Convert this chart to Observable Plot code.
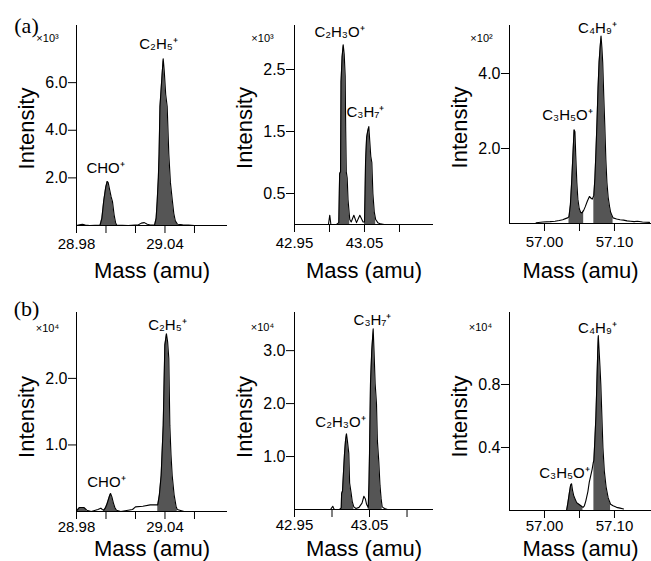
<!DOCTYPE html>
<html><head><meta charset="utf-8">
<script src="https://cdn.jsdelivr.net/npm/d3@7"></script>
<script src="https://cdn.jsdelivr.net/npm/@observablehq/plot@0.6"></script>
<style>
body{margin:0;background:#fff;}
#fig{position:relative;width:651px;height:561px;background:#fff;overflow:hidden;}
#fig svg{position:absolute;}
</style></head><body><div id="fig"></div>
<script>
// ---------- Panel (a) left: m/z 29 (x10^3) ----------
const massA1 = [28.980,28.982,28.984,28.986,28.989,28.9960,28.9972,28.9985,28.9998,29.0008,29.0015,29.0025,29.0035,29.0044,29.0055,29.0065,29.0072,29.015,29.022,29.024,29.026,29.028,29.030,29.0330,29.0340,29.0347,29.0355,29.0360,29.0366,29.0380,29.0388,29.0395,29.0405,29.0415,29.0426,29.0437,29.0449,29.0460,29.0470,29.0485,29.052,29.056,29.060];
const intA1  = [0,0.03,0.05,0.02,0,0.02,0.3,1.05,1.6,1.85,1.8,1.5,1.2,1.0,0.45,0.12,0.02,0,0.03,0.10,0.12,0.05,0.02,0.03,0.3,1.0,2.0,3.0,5.0,6.3,7.0,6.5,5.5,5.0,3.0,1.8,1.1,0.5,0.2,0.05,0.03,0.02,0];
const fillA1 = [[28.9960,29.0072],[29.0330,29.0485]];
const ionsA1 = ["C₂H₅⁺","CHO⁺"];
const ionMassA1 = [29.0356,28.9997];
const ionIntA1 = [7.6,2.4];

// ---------- Panel (a) middle: m/z 43 (x10^3) ----------
const massA2 = [42.995,42.9985,43.0004,43.0020,43.0100,43.0133,43.0140,43.0145,43.0158,43.0165,43.0180,43.0196,43.0210,43.0224,43.0232,43.0240,43.0253,43.0265,43.0280,43.0290,43.0310,43.0348,43.0386,43.0433,43.0480,43.0500,43.0508,43.0515,43.0530,43.0545,43.0562,43.0575,43.0590,43.0605,43.0620,43.0640,43.0660,43.0690,43.0730,43.0780];
const intA2  = [0,0,0.15,0,0,0.03,0.5,0.82,0.85,2.3,2.7,2.9,2.75,2.4,1.5,0.85,0.75,0.4,0.2,0.08,0.04,0.15,0.03,0.15,0.04,0.04,0.5,1.0,1.4,1.5,1.58,1.35,1.1,1.0,0.5,0.2,0.08,0.03,0.01,0];
const fillA2 = [[43.0133,43.0290],[43.0500,43.0660]];
const ionsA2 = ["C₂H₃O⁺","C₃H₇⁺"];
const ionMassA2 = [43.0143,43.0514];
const ionIntA2 = [3.11,1.81];

// ---------- Panel (a) right: m/z 57 (x10^2) ----------
const massA3 = [56.988,56.998,57.008,57.015,57.021,57.026,57.030,57.033,57.0350,57.0370,57.0388,57.0408,57.0423,57.0435,57.0447,57.0462,57.0477,57.0496,57.0516,57.0535,57.0560,57.0583,57.0613,57.0642,57.0662,57.0682,57.0705,57.0720,57.0735,57.0750,57.0765,57.0780,57.0795,57.0808,57.0820,57.0832,57.0847,57.0862,57.0877,57.0892,57.0910,57.0930,57.0945,57.0980,57.103,57.108,57.113,57.118,57.123,57.128,57.133,57.140,57.150];
const intA3  = [0.02,0.04,0.05,0.06,0.08,0.1,0.13,0.15,0.18,0.5,1.1,1.9,2.5,2.45,1.8,1.1,0.65,0.4,0.3,0.28,0.35,0.45,0.6,0.72,0.68,0.65,0.75,1.2,1.9,2.7,3.6,4.3,4.7,5.0,4.7,4.3,3.4,2.6,1.7,1.1,0.7,0.45,0.3,0.15,0.12,0.1,0.09,0.07,0.06,0.05,0.06,0.04,0.03];
const fillA3 = [[57.0350,57.0560],[57.0705,57.0980]];
const ionsA3 = ["C₄H₉⁺","C₃H₅O⁺"];
const ionMassA3 = [57.0757,57.0329];
const ionIntA3 = [5.2,2.88];

// ---------- Panel (b) left: m/z 29 (x10^4) ----------
const massB1 = [28.9805,28.9820,28.9850,28.9870,28.9900,28.9945,28.9965,28.9975,28.9985,28.9995,29.0005,29.0015,29.0025,29.0031,29.0040,29.0050,29.0060,29.0071,29.0100,29.0180,29.0200,29.0250,29.0300,29.0340,29.0351,29.0362,29.0374,29.0388,29.0399,29.0410,29.0418,29.0426,29.0433,29.0441,29.0449,29.0462,29.0475,29.0483,29.0500,29.0530];
const intB1  = [0.02,0.06,0.06,0.02,0,0.03,0.05,0.03,0.02,0.05,0.1,0.17,0.24,0.27,0.22,0.13,0.06,0.02,0,0.03,0.07,0.08,0.1,0.1,0.1,0.25,0.54,1.29,2.5,2.67,2.55,2.3,1.29,0.85,0.54,0.25,0.08,0.03,0.02,0];
const fillB1 = [[28.9805,28.9870],[28.9985,29.0071],[29.0351,29.0483]];
const ionsB1 = ["C₂H₅⁺","CHO⁺"];
const ionMassB1 = [29.0417,29.0003];
const ionIntB1 = [2.8,0.44];

// ---------- Panel (b) middle: m/z 43 (x10^4) ----------
const massB2 = [42.9980,43.0010,43.0030,43.0100,43.0123,43.0128,43.0140,43.0155,43.0167,43.0180,43.0193,43.0205,43.0224,43.0235,43.0256,43.0270,43.0291,43.0320,43.0360,43.0400,43.0425,43.0445,43.0460,43.0483,43.0493,43.0500,43.0513,43.0530,43.0549,43.0560,43.0575,43.0593,43.0605,43.0624,43.0640,43.0655,43.0669,43.0700,43.0740];
const intB2  = [0,0.06,0,0,0.03,0.3,0.35,0.75,1.06,1.3,1.43,1.3,1.06,0.5,0.3,0.15,0.05,0.02,0.04,0.12,0.25,0.2,0.1,0.04,0.5,1.06,2.38,3.0,3.41,3.0,2.38,2.0,1.3,0.9,0.45,0.2,0.05,0.02,0];
const fillB2 = [[43.0123,43.0291],[43.0483,43.0669]];
const ionsB2 = ["C₃H₇⁺","C₂H₃O⁺"];
const ionMassB2 = [43.054,43.0113];
const ionIntB2 = [3.57,1.64];

// ---------- Panel (b) right: m/z 57 (x10^4) ----------
const massB3 = [57.0316,57.0335,57.0355,57.0373,57.0387,57.0400,57.0420,57.0440,57.0460,57.0490,57.0520,57.0550,57.0570,57.0590,57.0620,57.0640,57.0660,57.0680,57.0695,57.0706,57.0720,57.0735,57.0748,57.0760,57.0769,57.0780,57.0792,57.0805,57.0820,57.0835,57.0855,57.0880,57.0910,57.0944,57.098,57.103,57.108,57.113];
const intB3  = [0,0.05,0.11,0.16,0.17,0.13,0.09,0.07,0.05,0.04,0.03,0.02,0.03,0.06,0.12,0.18,0.22,0.26,0.3,0.32,0.45,0.6,0.8,1.0,1.11,1.02,0.92,0.8,0.6,0.4,0.25,0.15,0.08,0.04,0.03,0.02,0.015,0.01];
const fillB3 = [[57.0316,57.0550],[57.0706,57.0944]];
const ionsB3 = ["C₄H₉⁺","C₃H₅O⁺"];
const ionMassB3 = [57.0757,57.0286];
const ionIntB3 = [1.16,0.24];

// ---------- axis ticks ----------
const xTicks29 = [28.98,29.00,29.02,29.04,29.06], xLab29 = [28.98,29.04];
const xTicks43 = [42.95,43.00,43.05,43.10], xLab43 = [42.95,43.05];
const xTicks57 = [57.00,57.05,57.10], xLab57 = [57.00,57.10];
const yTicksA1 = [2,4,6], yTicksA2 = [0.5,1.5,2.5], yTicksA3 = [2,4];
const yTicksB1 = [1,2], yTicksB2 = [1,2,3], yTicksB3 = [0.4,0.8];
const scaleLabels = ["×10³","×10³","×10²","×10⁴","×10⁴","×10⁴"];
const panelTags = ["(a)","(b)"];

const panels = [
  {left:0,top:0,w:230,h:280,ml:76,mr:3,mt:25,mb:55,xd:[28.98,29.0824],yd:[0,8.4],mass:massA1,int:intA1,fill:fillA1,ions:ionsA1,im:ionMassA1,ii:ionIntA1,xt:xTicks29,xl:xLab29,yt:yTicksA1,sc:scaleLabels[0],sdx:-29,sdy:13,xpad:5,tdy:45,idy:3,tag:panelTags[0],tagDy:0},
  {left:215,top:0,w:220,h:280,ml:79,mr:2,mt:25,mb:56,xd:[42.95,43.1486],yd:[0,3.21],mass:massA2,int:intA2,fill:fillA2,ions:ionsA2,im:ionMassA2,ii:ionIntA2,xt:xTicks43,xl:xLab43,yt:yTicksA2,sc:scaleLabels[1],sdx:-32,sdy:13,xpad:5,tdy:46,idy:3},
  {left:430,top:0,w:221,h:280,ml:79,mr:0,mt:25,mb:57,xd:[56.95,57.1529],yd:[0,5.28],mass:massA3,int:intA3,fill:fillA3,ions:ionsA3,im:ionMassA3,ii:ionIntA3,xt:xTicks57,xl:xLab57,yt:yTicksA3,sc:scaleLabels[2],sdx:-28,sdy:13,xpad:5,tdy:47,idy:3},
  {left:0,top:280,w:230,h:281,ml:76,mr:3,mt:32,mb:50,xd:[28.98,29.0824],yd:[0,2.99],mass:massB1,int:intB1,fill:fillB1,ions:ionsB1,im:ionMassB1,ii:ionIntB1,xt:xTicks29,xl:xLab29,yt:yTicksB1,sc:scaleLabels[3],sdx:-29,sdy:16,xpad:2,tdy:37,idy:5,tag:panelTags[1],tagDy:-4},
  {left:215,top:280,w:220,h:281,ml:79,mr:2,mt:32,mb:52,xd:[42.95,43.1353],yd:[0,3.72],mass:massB2,int:intB2,fill:fillB2,ions:ionsB2,im:ionMassB2,ii:ionIntB2,xt:xTicks43,xl:xLab43,yt:yTicksB2,sc:scaleLabels[4],sdx:-32,sdy:15,xpad:2,tdy:39,idy:6},
  {left:430,top:280,w:221,h:281,ml:79,mr:0,mt:32,mb:51,xd:[56.95,57.1529],yd:[0,1.257],mass:massB3,int:intB3,fill:fillB3,ions:ionsB3,im:ionMassB3,ii:ionIntB3,xt:xTicks57,xl:xLab57,yt:yTicksB3,sc:scaleLabels[5],sdx:-29,sdy:15,xpad:2,tdy:38,idy:5}
];

const fig = document.getElementById("fig");
for (const p of panels) {
  const rows = p.mass.map((m, i) => ({mass: m, int: p.int[i],
    seg: p.fill.findIndex(([lo, hi]) => m >= lo - 1e-9 && m <= hi + 1e-9)}));
  const filled = rows.filter(d => d.seg >= 0);
  const labels = p.ions.map((t, i) => ({t, m: p.im[i], v: p.ii[i]}));
  const centered = {textAnchor: "middle", lineAnchor: "middle"};
  const marks = [
    Plot.areaY(filled, {x: "mass", y: "int", z: "seg", fill: "#555"}),
    Plot.line(rows, {x: "mass", y: "int", stroke: "black", strokeWidth: 1.1}),
    Plot.ruleY([0], {stroke: "black"}),
    Plot.ruleX([p.xd[0]], {stroke: "black"}),
    Plot.axisX({ticks: p.xt, tickFormat: d => p.xl.includes(d) ? d.toFixed(2) : "", tickSize: 8, tickPadding: p.xpad, fontSize: 15, label: null}),
    Plot.axisY({ticks: p.yt, tickFormat: d => d.toFixed(1), tickSize: 8, tickPadding: 1, fontSize: 16, label: null}),
    Plot.text(labels, {x: "m", y: "v", text: "t", fontSize: 15, ...centered}),
    Plot.text([p.sc], {text: d => d, frameAnchor: "top-left", dx: p.sdx, dy: p.sdy, fontSize: 11, ...centered}),
    Plot.text(["Intensity"], {text: d => d, frameAnchor: "left", rotate: -90, dx: -50, dy: p.idy, fontSize: 22, ...centered}),
    Plot.text(["Mass (amu)"], {text: d => d, frameAnchor: "bottom", dy: p.tdy, fontSize: 22, ...centered})
  ];
  if (p.tag) marks.push(Plot.text([p.tag], {text: d => d, frameAnchor: "top-left", dx: -50, dy: p.tagDy, fontSize: 22, fontFamily: "'Liberation Serif', 'Times New Roman', serif", ...centered}));
  const svg = Plot.plot({
    width: p.w, height: p.h,
    marginLeft: p.ml, marginRight: p.mr, marginTop: p.mt, marginBottom: p.mb,
    style: {background: "transparent", overflow: "visible", fontFamily: "'Liberation Sans', Arial, sans-serif", color: "black"},
    x: {domain: p.xd, axis: null},
    y: {domain: p.yd, axis: null},
    marks
  });
  svg.style.left = p.left + "px";
  svg.style.top = p.top + "px";
  svg.style.maxWidth = "none";
  fig.appendChild(svg);
}
</script></body></html>
